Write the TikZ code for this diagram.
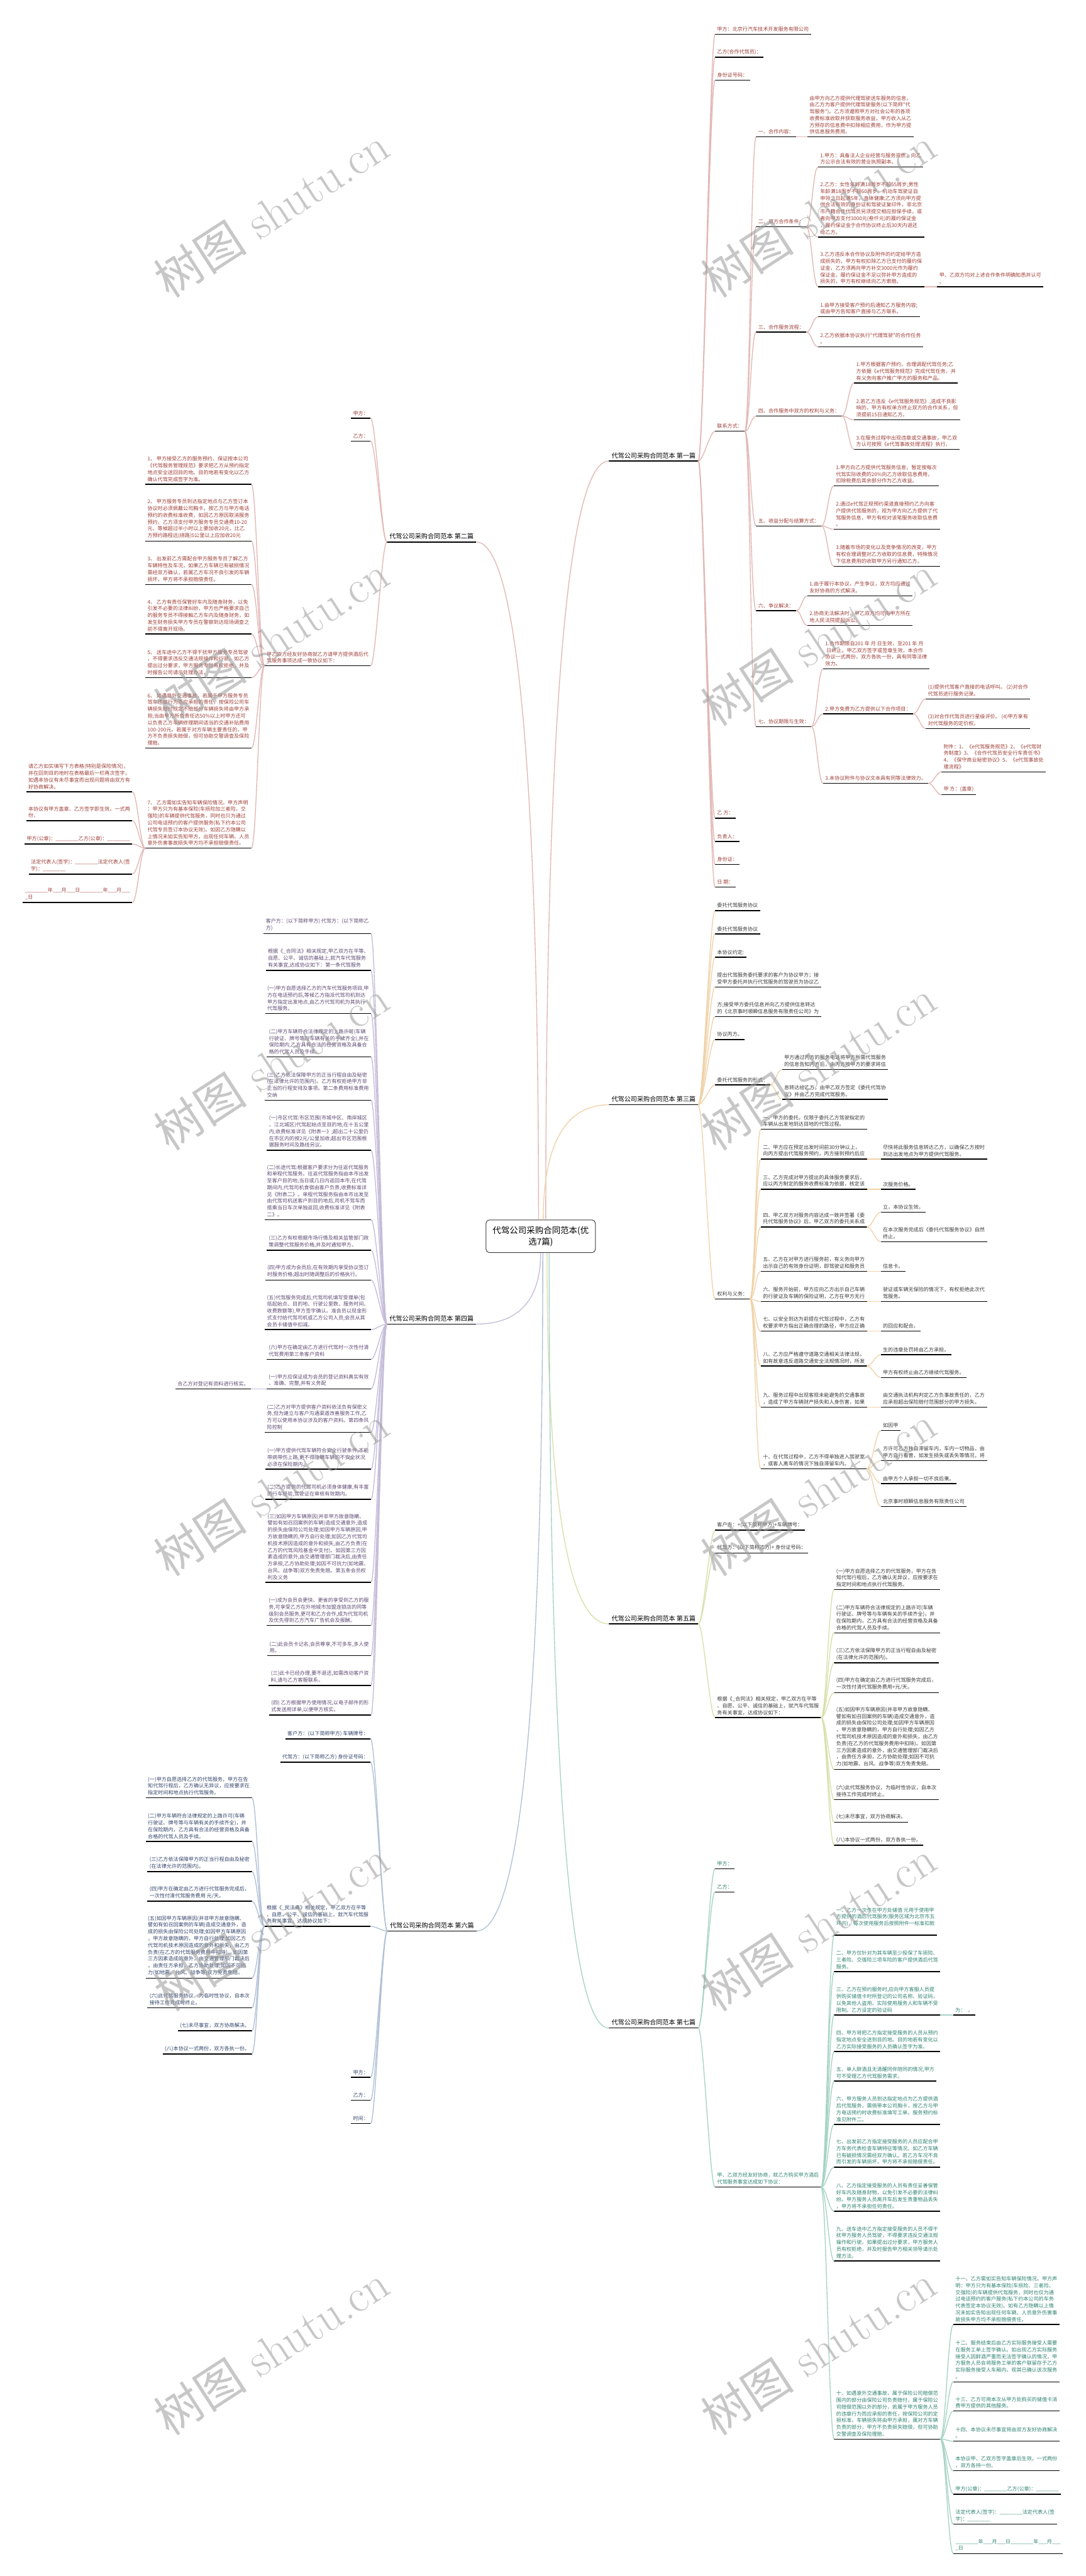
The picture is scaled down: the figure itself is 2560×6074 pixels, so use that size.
\documentclass[tikz,border=0pt]{standalone}
\usepackage{fontspec}
\newfontfamily\cjk{Noto Sans CJK SC}
\definecolor{tRed}{HTML}{9E3F38}
\definecolor{tDark}{HTML}{3A3A3A}
\definecolor{tPur}{HTML}{5E4A72}
\definecolor{tNavy}{HTML}{33456A}
\definecolor{tTeal}{HTML}{2E8270}
\definecolor{kPink}{HTML}{E2B8B5}
\definecolor{kOrange}{HTML}{F0D2A8}
\definecolor{kPur}{HTML}{C6BCD9}
\definecolor{kYG}{HTML}{D9DFAA}
\definecolor{kBlue}{HTML}{B0C0D6}
\definecolor{kTeal}{HTML}{A6D3C5}
\newcommand\mkR[4]{\node[nd,#3,anchor=south west] (#1) at #2 {#4};\draw[uline] (#1.south west) -- (#1.south east);}
\newcommand\mkL[4]{\node[nd,#3,anchor=south east] (#1) at #2 {#4};\draw[uline] (#1.south west) -- (#1.south east);}
\newcommand\lkR[3]{\draw[#1] (#2.south east) .. controls +(12,0) and +(-12,0) .. (#3.south west);}
\newcommand\lkL[3]{\draw[#1] (#2.south west) .. controls +(-12,0) and +(12,0) .. (#3.south east);}
\newcommand\blankL{\_\_\_\_\_\_\_\_}
\newcommand\blankS{\_\_\_}
\begin{document}
\begin{tikzpicture}[x=1pt,y=-1pt,
 nd/.style={inner xsep=5pt,inner ysep=6pt,align=left,font=\cjk\fontsize{12}{16}\selectfont},
 lab/.style={inner xsep=6pt,font=\cjk\fontsize{15}{19}\selectfont,text=black},
 uline/.style={line width=2pt,black},
 root/.style={draw=black!75,line width=1.5pt,rounded corners=8pt,fill=white,minimum width=258pt,minimum height=77pt,align=center,font=\cjk\fontsize{20}{27}\selectfont},
 tA/.style={text=tRed}, tB/.style={text=tDark}, tC/.style={text=tPur}, tD/.style={text=tNavy}, tE/.style={text=tTeal},
 kA/.style={draw=kPink,line width=2pt}, kB/.style={draw=kOrange,line width=2pt}, kC/.style={draw=kPur,line width=2pt},
 kD/.style={draw=kYG,line width=2pt}, kE/.style={draw=kBlue,line width=2pt}, kF/.style={draw=kTeal,line width=2pt},
 wm/.style={rotate=33,text=black!40,opacity=0.55,font=\fontsize{110}{110}\selectfont}
]
\fill[white] (0,0) rectangle (2560,6074);
\useasboundingbox (0,0) rectangle (2560,6074);

\node[root] (root) at (1275,2915) {代驾公司采购合同范本(优\\选7篇)};

\mkR{b1}{(1436,1087)}{lab}{代驾公司采购合同范本 第一篇}
\mkL{b2}{(1123,1278)}{lab}{代驾公司采购合同范本 第二篇}
\mkR{b3}{(1436,2605)}{lab}{代驾公司采购合同范本 第三篇}
\mkL{b4}{(1123,3122)}{lab}{代驾公司采购合同范本 第四篇}
\mkR{b5}{(1436,3829)}{lab}{代驾公司采购合同范本 第五篇}
\mkL{b6}{(1124,4553)}{lab}{代驾公司采购合同范本 第六篇}
\mkR{b7}{(1436,4782)}{lab}{代驾公司采购合同范本 第七篇}

% ---------- Branch 1
\mkR{a1}{(1686,81)}{tA}{甲方：北京行汽车技术开发服务有限公司}
\mkR{a2}{(1686,135)}{tA}{乙方(合作代驾员)：}
\mkR{a3}{(1686,189)}{tA}{身份证号码：}
\mkR{a4}{(1686,1017)}{tA}{联系方式：}
\mkR{a5}{(1686,1929)}{tA}{乙 方：}
\mkR{a6}{(1686,1984)}{tA}{负责人：}
\mkR{a7}{(1686,2038)}{tA}{身份证：}
\mkR{a8}{(1686,2092)}{tA}{日 期：}
\mkR{s1}{(1783,323)}{tA}{一、合作内容：}
\mkR{s2}{(1783,535)}{tA}{二、双方合作条件：}
\mkR{s3}{(1783,783)}{tA}{三、合作服务流程：}
\mkR{s4}{(1783,981)}{tA}{四、合作服务中双方的权利与义务：}
\mkR{s5}{(1783,1240)}{tA}{五、收益分配与结算方式：}
\mkR{s6}{(1783,1440)}{tA}{六、争议解决：}
\mkR{s7}{(1783,1713)}{tA}{七、协议期限与生效：}
\mkR{t11}{(1904,323)}{tA}{由甲方向乙方提供代理驾驶送车服务的信息，\\由乙方为客户提供代理驾驶服务(以下简称"代\\驾服务")。乙方须遵照甲方对社会公布的各项\\收费标准收取并获取服务收益，甲方收入从乙\\方预存的信息费中扣除相应费用，作为甲方提\\供信息服务费用。}
\mkR{t21}{(1929,394)}{tA}{1.甲方：具备法人企业经营与服务资质，向乙\\方公示合法有效的营业执照副本。}
\mkR{t22}{(1929,559)}{tA}{2.乙方：女性年龄满18周岁不超55周岁;男性\\年龄满18周岁不超60周岁。机动车驾驶证自\\申领之日起满5年，身体健康;乙方须向甲方提\\供合法有效的身份证和驾驶证复印件。非北京\\市户籍合作代驾员另须提交相应担保手续，或\\者向甲方支付3000元(叁仟元)的履约保证金\\，履约保证金于合作协议终止后30天内退还\\给乙方。}
\mkR{t23}{(1929,676)}{tA}{3.乙方违反本合作协议及附件的约定给甲方造\\成损失的，甲方有权扣除乙方已支付的履约保\\证金，乙方须再向甲方补交3000元作为履约\\保证金。履约保证金不足以弥补甲方造成的\\损失的，甲方有权继续向乙方索赔。}
\mkR{t231}{(2210,676)}{tA}{甲、乙双方均对上述合作条件明确知悉并认可\\。}
\mkR{t31}{(1929,747)}{tA}{1.由甲方接受客户预约后通知乙方服务内容;\\或由甲方告知客户直接与乙方联系。}
\mkR{t32}{(1929,818)}{tA}{2.乙方依据本协议执行"代理驾驶"的合作任务\\。}
\mkR{t41}{(2014,903)}{tA}{1.甲方根据客户预约，合理调配代驾任务;乙\\方依据《e代驾服务规范》完成代驾任务，并\\有义务向客户推广甲方的服务和产品。}
\mkR{t42}{(2014,990)}{tA}{2.若乙方违反《e代驾服务规范》,造成不良影\\响的，甲方有权单方终止双方的合作关系，但\\须提前15日通知乙方。}
\mkR{t43}{(2014,1060)}{tA}{3.在服务过程中出现违章或交通事故，甲乙双\\方认可按照《e代驾事故处理流程》执行。}
\mkR{t51}{(1966,1146)}{tA}{1.甲方向乙方提供代驾服务信息，暂定按每次\\代驾实际收费的20\%向乙方收取信息费用，\\扣除税费后其余部分作为乙方收益。}
\mkR{t52}{(1966,1248)}{tA}{2.通过e代驾正规预约渠道直接预约乙方向客\\户提供代驾服务的，视为甲方向乙方提供了代\\驾服务信息，甲方有权对该笔服务收取信息费\\。}
\mkR{t53}{(1966,1335)}{tA}{3.随着市场的变化以及竞争情况的改变，甲方\\有权合理调整对乙方收取的信息费，特殊情况\\下信息费用的收取甲方另行通知乙方。}
\mkR{t61}{(1904,1405)}{tA}{1.由于履行本协议，产生争议，双方均应通过\\友好协商的方式解决。}
\mkR{t62}{(1904,1475)}{tA}{2.协商无法解决时，甲乙双方均可向甲方所在\\地人民法院提起诉讼。}
\mkR{t71}{(1941,1577)}{tA}{1.合作期限自201 年 月 日生效，至201 年 月\\~日终止。甲乙双方签字或签章生效，本合作\\协议一式两份，双方各执一份，具有同等法律\\效力。}
\mkR{t72}{(1941,1683)}{tA}{2.甲方免费为乙方提供以下合作项目：}
\mkR{t73}{(1941,1847)}{tA}{3.本协议附件与协议文本具有同等法律效力。}
\mkR{u1}{(2183,1648)}{tA}{(1)提供代驾客户直接的电话呼叫。 (2)对合作\\代驾员进行服务记录。}
\mkR{u2}{(2183,1718)}{tA}{(3)对合作代驾员进行星级评价。 (4)甲方享有\\对代驾服务的定价权。}
\mkR{u3}{(2220,1820)}{tA}{附件：1、《e代驾服务规范》2、《e代驾财\\务制度》3、《合作代驾员安全行车责任书》\\4、《保守商业秘密协议》5、《e代驾事故处\\理流程》}
\mkR{u4}{(2220,1874)}{tA}{甲 方：(盖章)}

% ---------- Branch 2
\mkL{c1}{(874,986)}{tA}{甲方：}
\mkL{c2}{(874,1040)}{tA}{乙方：}
\mkL{c3}{(874,1570)}{tA}{甲乙双方经友好协商就乙方请甲方提供酒后代\\驾服务事项达成一致协议如下：}
\mkL{d1}{(593,1142)}{tA}{1、 甲方接受乙方的服务预约，保证按本公司\\《代驾服务管理规范》要求把乙方从预约指定\\地点安全送回目的地。目的地若有变化以乙方\\确认代驾完成签字为准。}
\mkL{d2}{(593,1276)}{tA}{2、 甲方服务专员到达指定地点与乙方签订本\\协议时必须佩戴公司胸卡。按乙方与甲方电话\\预约的收费标准收费，如因乙方原因取消服务\\预约，乙方须支付甲方服务专员交通费10-20\\元，等候超过半小时以上要加收20元，比乙\\方预约路程远(绕路)5公里以上应加收20元}
\mkL{d3}{(593,1378)}{tA}{3、 出发前乙方需配合甲方服务专员了解乙方\\车辆特性及车况，如果乙方车辆已有破损情况\\需经双方确认，若属乙方车况不良引发的车辆\\损坏，甲方将不承担赔偿责任。}
\mkL{d4}{(593,1495)}{tA}{4、 乙方有责任保管好车内及随身财务，以免\\引发不必要的法律纠纷，甲方也严格要求自己\\的服务专员不得接触乙方车内及随身财务，如\\发生财务损失甲方专员在警察到达现场调查之\\前不得离开现场。}
\mkL{d5}{(593,1598)}{tA}{5、 送车途中乙方不得干扰甲方服务专员驾驶\\，不得要求违反交通法规操作和行驶。如乙方\\提出过分要求，甲方服务专员有权拒绝，并及\\时报告公司请示处理办法，}
\mkL{d6}{(593,1764)}{tA}{6、 如遇意外交通事故，若属于甲方服务专员\\驾车违章行为而应承担的责任，按保险公司车\\辆损失赔付规定不赔部分车辆损失将由甲方承\\担;当由甲方所负责任达50\%以上时甲方还可\\以负责乙方车辆修理期间适当的交通补贴费用\\100-200元。若属于对方车辆主要责任的，甲\\方不负责损失赔偿，但可协助交警调查及保险\\理赔。}
\mkL{d7}{(593,2000)}{tA}{7、 乙方需如实告知车辆保险情况。甲方声明\\：甲方只为有基本保险(车损险加三者险，交\\强险)的车辆提供代驾服务，同时也只为通过\\公司电话预约的客户提供服务(私下约本公司\\代驾专员签订本协议无效)。如因乙方隐瞒以\\上情况未如实告知甲方，出现任何车辆、人员\\意外伤害事故损失甲方均不承担赔偿责任。}
\mkL{e1}{(312,1867)}{tA}{请乙方如实填写下方表格(特别是保险情况)，\\并在回到目的地时在表格最后一栏再次签字。\\如遇本协议有未尽事宜而出现问题将由双方有\\好协商解决。}
\mkL{e2}{(312,1935)}{tA}{本协议有甲方盖章、乙方签字即生效。一式两\\份，}
\mkL{e3}{(312,1990)}{tA}{甲方(公章)：\blankL 乙方(公章)：\blankL}
\mkL{e4}{(312,2061)}{tA}{法定代表人(签字)：\blankL 法定代表人(签\\字)：\blankL}
\mkL{e5}{(312,2128)}{tA}{\blankL 年\blankS 月\blankS 日\blankL 年\blankS 月\blankS\\\_日}

% ---------- Branch 3
\mkR{f1}{(1686,2147)}{tB}{委托代驾服务协议}
\mkR{f2}{(1686,2202)}{tB}{委托代驾服务协议}
\mkR{f3}{(1686,2257)}{tB}{本协议约定:}
\mkR{f4}{(1686,2327)}{tB}{提出代驾服务委托要求的客户为协议甲方；接\\受甲方委托并执行代驾服务的驾驶员为协议乙}
\mkR{f5}{(1686,2397)}{tB}{方;接受甲方委托信息并向乙方提供信息转达\\的《北京事时顺瞬信息服务有限责任公司》为}
\mkR{f6}{(1686,2451)}{tB}{协议丙方。}
\mkR{f7}{(1686,2558)}{tB}{委托代驾服务的形式：}
\mkR{f8}{(1686,3063)}{tB}{权利与义务：}
\mkR{g1}{(1844,2522)}{tB}{甲方通过丙方的服务电话将甲方所需代驾服务\\的信息告知丙方后，由丙方按甲方的要求将信}
\mkR{g2}{(1844,2592)}{tB}{息转达给乙方，由甲乙双方签定《委托代驾协\\议》并由乙方完成代驾服务。}
\mkR{h1}{(1794,2663)}{tB}{一、甲方的委托，仅限于委托乙方驾驶指定的\\车辆从出发地到达目地的代驾过程。}
\mkR{h2}{(1794,2733)}{tB}{二、甲方应在预定出发时间前30分钟以上，\\向丙方提出代驾服务预约，丙方接到预约后应}
\mkR{h3}{(1794,2804)}{tB}{三、乙方完成对甲方提出的具体服务要求后，\\应以丙方制定的服务收费标准为依据，核定该}
\mkR{h4}{(1794,2893)}{tB}{四、甲乙双方对服务内容达成一致并签署《委\\托代驾服务协议》后，甲乙双方的委托关系成}
\mkR{h5}{(1794,2998)}{tB}{五、乙方在对甲方进行服务前，有义务向甲方\\出示自己的有效身份证明，即驾驶证和服务员}
\mkR{h6}{(1794,3069)}{tB}{六、服务开始前，甲方应向乙方出示自己车辆\\的行驶证及车辆的保险证明，乙方在甲方无行}
\mkR{h7}{(1794,3139)}{tB}{七、以安全到达为前提在代驾过程中，乙方有\\权要求甲方指出正确合理的路径，甲方应正确}
\mkR{h8}{(1794,3221)}{tB}{八、乙方应严格遵守道路交通相关法律法规，\\如有故意违反道路交通安全法规情况时，所发}
\mkR{h9}{(1794,3318)}{tB}{九、服务过程中出现客观未能避免的交通事故\\，造成了甲方车辆财产损失和人身伤害，如果}
\mkR{h10}{(1794,3463)}{tB}{十、在代驾过程中，乙方不得单独进入驾驶室\\，或客人离车的情况下独自滞留车内。}
\mkR{h2a}{(2077,2733)}{tB}{尽快将此服务信息转达乙方，以确保乙方按时\\到达出发地点为甲方提供代驾服务。}
\mkR{h3a}{(2077,2804)}{tB}{次服务价格。}
\mkR{h4a}{(2077,2858)}{tB}{立，本协议生效。}
\mkR{h4b}{(2077,2928)}{tB}{在本次服务完成后《委托代驾服务协议》自然\\终止。}
\mkR{h5a}{(2077,2998)}{tB}{信息卡。}
\mkR{h6a}{(2077,3069)}{tB}{驶证或车辆无保险的情况下，有权拒绝此次代\\驾服务。}
\mkR{h7a}{(2077,3139)}{tB}{的回应和配合。}
\mkR{h8a}{(2077,3194)}{tB}{生的违章处罚将由乙方承担。}
\mkR{h8b}{(2077,3248)}{tB}{甲方有权终止由乙方继续代驾服务。}
\mkR{h9a}{(2077,3318)}{tB}{由交通执法机构判定乙方负事故责任的，乙方\\应承担超出保险赔付范围部分的甲方损失。}
\mkR{h10a}{(2077,3373)}{tB}{如因甲}
\mkR{h10b}{(2077,3444)}{tB}{方许可乙方独自滞留车内，车内一切物品，由\\甲方自行看管，如发生损失或丢失等情况，将}
\mkR{h10c}{(2077,3498)}{tB}{由甲方个人承担一切不良后果。}
\mkR{h10d}{(2077,3552)}{tB}{北京事时顺瞬信息服务有限责任公司}

% ---------- Branch 4
\mkL{i1}{(875,2201)}{tC}{客户方：(以下简称甲方) 代驾方：(以下简称乙\\方)}
\mkL{i2}{(875,2288)}{tC}{根据《\_合同法》相关规定,甲乙双方在平等、\\自愿、公平、诚信的基础上,就汽车代驾服务\\有关事宜,达成协议如下：第一条代驾服务}
\mkL{i3}{(875,2390)}{tC}{(一)甲方自愿选择乙方的汽车代驾服务项目,甲\\方在电话预约后,等候乙方指派代驾司机到达\\甲方指定出发地点,由乙方代驾司机为其执行\\代驾服务。}
\mkL{i4}{(875,2492)}{tC}{(二)甲方车辆符合法律规定的上路许可(车辆\\行驶证、牌号等与车辆有关的手续齐全),并在\\保险期内,乙方具有合法的经营资格及具备合\\格的代驾人员及手续。}
\mkL{i5}{(875,2594)}{tC}{(三)乙方依法保障甲方的正当行程自由及秘密\\(在法律允许的范围内)。乙方有权拒绝甲方非\\正当的行程安排及事项。第二条费用标准费用\\交纳}
\mkL{i6}{(875,2712)}{tC}{(一)市区代驾:市区范围(市城中区、南岸城区\\、江北城区)代驾起始点至目的地,在十五公里\\内,收费标准详见《附表一》;超出二十公里仍\\在市区内的按2元/公里加收;超出市区范围根\\据服务时间及路线另议。}
\mkL{i7}{(875,2876)}{tC}{(二)长途代驾:根据客户要求分为往返代驾服务\\和单程代驾服务。往返代驾服务指由本市出发\\至客户目的地,当日或几日内返回本市,在代驾\\期间内,代驾司机食宿由客户负责,收费标准详\\见《附表二》。单程代驾服务指由本市出发至\\由代驾司机送客户到目的地后,司机不驾车而\\搭乘当日车次单独返回,收费标准详见《附表\\二》。}
\mkL{i8}{(875,2948)}{tC}{(三)乙方有权根据市场行情及相关监管部门政\\策调整代驾服务价格,并及时通知甲方。}
\mkL{i9}{(875,3018)}{tC}{(四)甲方成为会员后,在有效期内享受协议签订\\时服务价格;超出时随调整后的价格执行。}
\mkL{i10}{(875,3135)}{tC}{(五)代驾服务完成后,代驾司机填写受理单(包\\括起始点、目的地、行驶公里数、服务时间、\\收费数额等),甲方签字确认。准会员以现金形\\式支付给代驾司机或乙方公司人员;会员从其\\会员卡储值中扣减。}
\mkL{i11}{(875,3205)}{tC}{(六)甲方在确定由乙方进行代驾时一次性付清\\代驾费用第三条客户资料}
\mkL{i12}{(875,3275)}{tC}{(一)甲方应保证成为会员的登记资料真实有效\\、准确、完整,并有义务配}
\mkL{j1}{(592,3275)}{tC}{合乙方对登记有资料进行核实。}
\mkL{i13}{(875,3377)}{tC}{(二)乙方对甲方提供客户资料依法负有保密义\\务,但为建立与客户沟通渠道改善服务工作,乙\\方可以使用本协议涉及的客户资料。第四条风\\险控制}
\mkL{i14}{(875,3464)}{tC}{(一)甲方提供代驾车辆符合安全行驶条件,不能\\带病带伤上路,更不得隐瞒车辆的不安全状况\\必须在保险期内。}
\mkL{i15}{(875,3535)}{tC}{(二)乙方提供的代驾司机必须身体健康,有丰富\\的行车经验,驾驶证在审核有效期内。}
\mkL{i16}{(875,3731)}{tC}{(三)如因甲方车辆原因(并非甲方故意隐瞒、\\譬如有如召回案例的车辆)造成交通意外,造成\\的损失由保险公司处理;如因甲方车辆原因,甲\\方故意隐瞒的,甲方自行处理;如因乙方代驾司\\机技术原因造成的意外和损失,由乙方负责(在\\乙方的代驾风险基金中支付)。如因第三方因\\素造成的意外,由交通管理部门裁决后,由责任\\方承担,乙方协助处理;如因不可抗力(如地震、\\台风、战争等)双方免责免赔。第五条会员权\\利及义务}
\mkL{i17}{(875,3833)}{tC}{(一)成为会员会更快、更省的享受到乙方的服\\务,可享受乙方在外地城市加盟连锁店的同等\\级别会员服务,更可和乙方合作,成为代驾司机\\及优先得到乙方汽车广告机会及报酬。}
\mkL{i18}{(875,3904)}{tC}{(二)此会员卡记名,会员尊享,不可多车,多人使\\用。}
\mkL{i19}{(875,3974)}{tC}{(三)此卡已经办理,要不退还,如需改动客户资\\料,请与乙方客服联系。}
\mkL{i20}{(875,4044)}{tC}{(四) 乙方根据甲方使用情况,以电子邮件的形\\式发送用详单,以便甲方核实。}

% ---------- Branch 5
\mkR{k1}{(1686,3608)}{tB}{客户方：+(以下简称甲方)+车辆牌号：}
\mkR{k2}{(1686,3662)}{tB}{代驾方：(以下简称乙方)+ 身份证号码：}
\mkR{k3}{(1686,4050)}{tB}{根据《\_合同法》相关规定，甲乙双方在平等\\、自愿、公平、诚信的基础上，就汽车代驾服\\务有关事宜，达成协议如下：}
\mkR{l1}{(1967,3748)}{tB}{(一)甲方自愿选择乙方的代驾服务，甲方在告\\知代驾行程后，乙方确认无异议，应按要求在\\指定时间和地点执行代驾服务。}
\mkR{l2}{(1967,3850)}{tB}{(二)甲方车辆符合法律规定的上路许可(车辆\\行驶证、牌号等与车辆有关的手续齐全)，并\\在保险期内，乙方具有合法的经营资格及具备\\合格的代驾人员及手续。}
\mkR{l3}{(1967,3921)}{tB}{(三)乙方依法保障甲方的正当行程自由及秘密\\(在法律允许的范围内)。}
\mkR{l4}{(1967,3991)}{tB}{(四)甲方在确定由乙方进行代驾服务完成后，\\一次性付清代驾服务费用+元/天。}
\mkR{l5}{(1967,4172)}{tB}{(五)如因甲方车辆原因(并非甲方故意隐瞒、\\譬如有如召回案例的车辆)造成交通意外，造\\成的损失由保险公司处理;如因甲方车辆原因\\，甲方故意隐瞒的，甲方自行处理;如因乙方\\代驾司机技术原因造成的意外和损失，由乙方\\负责(在乙方的代驾服务费用中扣除)。如因第\\三方因素造成的意外，由交通管理部门裁决后\\，由责任方承担，乙方协助处理;如因不可抗\\力(如地震、台风、战争等)双方免责免赔。}
\mkR{l6}{(1967,4243)}{tB}{(六)此代驾服务协议，为临时性协议，自本次\\接待工作完成时终止。}
\mkR{l7}{(1967,4297)}{tB}{(七)未尽事宜，双方协商解决。}
\mkR{l8}{(1967,4351)}{tB}{(八)本协议一式两份，双方各执一份。}

% ---------- Branch 6
\mkL{m1}{(874,4100)}{tD}{客户方：(以下简称甲方) 车辆牌号：}
\mkL{m2}{(874,4155)}{tD}{代驾方：(以下简称乙方) 身份证号码：}
\mkL{m3}{(874,4542)}{tD}{根据《\_民法典》相关规定，甲乙双方在平等\\、自愿、公平、诚信的基础上，就汽车代驾服\\务有关事宜，达成协议如下：}
\mkL{m4}{(874,4898)}{tD}{甲方：}
\mkL{m5}{(874,4952)}{tD}{乙方：}
\mkL{m6}{(874,5007)}{tD}{时间：}
\mkL{n1}{(594,4239)}{tD}{(一)甲方自愿选择乙方的代驾服务，甲方在告\\知代驾行程后，乙方确认无异议，应按要求在\\指定时间和地点执行代驾服务。}
\mkL{n2}{(594,4342)}{tD}{(二)甲方车辆符合法律规定的上路许可(车辆\\行驶证、牌号等与车辆有关的手续齐全)，并\\在保险期内，乙方具有合法的经营资格及具备\\合格的代驾人员及手续。}
\mkL{n3}{(594,4413)}{tD}{(三)乙方依法保障甲方的正当行程自由及秘密\\(在法律允许的范围内)。}
\mkL{n4}{(594,4483)}{tD}{(四)甲方在确定由乙方进行代驾服务完成后，\\一次性付清代驾服务费用 元/天。}
\mkL{n5}{(594,4664)}{tD}{(五)如因甲方车辆原因(并非甲方故意隐瞒、\\譬如有如召回案例的车辆)造成交通意外，造\\成的损失由保险公司处理;如因甲方车辆原因\\，甲方故意隐瞒的，甲方自行处理;如因乙方\\代驾司机技术原因造成的意外和损失，由乙方\\负责(在乙方的代驾服务费用中扣除)。如因第\\三方因素造成的意外，由交通管理部门裁决后\\，由责任方承担，乙方协助处理;如因不可抗\\力(如地震、台风、战争等)双方免责免赔。}
\mkL{n6}{(594,4734)}{tD}{(六)此代驾服务协议，为临时性协议，自本次\\接待工作完成时终止。}
\mkL{n7}{(594,4788)}{tD}{(七)未尽事宜，双方协商解决。}
\mkL{n8}{(594,4843)}{tD}{(八)本协议一式两份，双方各执一份。}

% ---------- Branch 7
\mkR{o1}{(1686,4406)}{tE}{甲方：}
\mkR{o2}{(1686,4461)}{tE}{乙方：}
\mkR{o3}{(1686,5157)}{tE}{甲、乙双方经友好协商，就乙方购买甲方酒后\\代驾服务事宜达成如下协议：}
\mkR{p1}{(1967,4563)}{tE}{一、乙方一次性在甲方处储值 元用于使用甲\\方提供的酒后代驾服务(服务区域为北京市五\\环内)，每次使用服务后按照附件一标准扣款\\。}
\mkR{p2}{(1967,4649)}{tE}{二、甲方仅针对为其车辆至少投保了车损险、\\三者险、交强险三项车险的客户提供酒后代驾\\服务。}
\mkR{p3}{(1967,4751)}{tE}{三、乙方在预约服务时,应向甲方客服人员提\\供购买储值卡时所登记的公司名称、验证码，\\以免其他人盗用。实际使用服务人和车辆不受\\限制。乙方设定的验证码}
\mkR{q0}{(2248,4751)}{tE}{为：~~。}
\mkR{p4}{(1967,4837)}{tE}{四、甲方将把乙方指定接受服务的人员从预约\\指定地点安全送到目的地。目的地若有变化以\\乙方实际接受服务的人员确认签字为准。}
\mkR{p5}{(1967,4907)}{tE}{五、单人醉酒且无清醒同伴陪同的情况,甲方\\可不受理乙方代驾服务需求。}
\mkR{p6}{(1967,5009)}{tE}{六、甲方服务人员到达指定地点为乙方提供酒\\后代驾服务，需佩带本公司胸卡，按乙方与甲\\方电话预约时收费标准填写工单。服务预约标\\准见附件二。}
\mkR{p7}{(1967,5110)}{tE}{七、出发前乙方指定接受服务的人员应配合甲\\方车务代表检查车辆特征等情况。如乙方车辆\\已有破损情况需经双方确认。若乙方车况不良\\而引发的车辆损坏，甲方将不承担赔偿责任。}
\mkR{p8}{(1967,5214)}{tE}{八、乙方指定接受服务的人员有责任妥善保管\\好车内及随身财物，以免引发不必要的法律纠\\纷。甲方服务人员离开车后发生贵重物品丢失\\，甲方将不承担任何责任。}
\mkR{p9}{(1967,5331)}{tE}{九、送车途中乙方指定接受服务的人员不得干\\扰甲方服务人员驾驶，不得要求违反交通法规\\操作和行驶。如果提出过分要求，甲方服务人\\员有权拒绝，并及时报告甲方相关领导请示处\\理方法。}
\mkR{p10}{(1967,5751)}{tE}{十、如遇意外交通事故，属于保险公司赔偿范\\围内的部分由保险公司负责赔付，属于保险公\\司赔偿范围以外的部分，若属于甲方服务人员\\的违章行为而应承担的责任，按保险公司的定\\损标准，车辆损失将由甲方承担，属对方车辆\\负责的部分，甲方不负责损失赔偿，但可协助\\交警调查及保险理赔。}
\mkR{q1}{(2248,5481)}{tE}{十一、乙方需如实告知车辆保险情况。甲方声\\明：甲方只为有基本保险(车损险、三者险、\\交强险)的车辆提供代驾服务，同时也仅为通\\过电话预约的客户服务(私下约本公司的车务\\代表签定本协议无效)。如有乙方隐瞒以上情\\况未如实告知出现任何车辆、人员意外伤害事\\故损失甲方均不承担赔偿责任。}
\mkR{q2}{(2248,5616)}{tE}{十二、服务结束后由乙方实际服务接受人需要\\在服务工单上签字确认。如出现乙方实际服务\\接受人因醉酒严重而无法签字确认的情况，甲\\方服务人员会将服务工单的客户联留存于乙方\\实际服务接受人车厢内，视其已确认该次服务\\。}
\mkR{q3}{(2248,5685)}{tE}{十三、乙方可用本次从甲方处购买的储值卡消\\费甲方提供的其他服务。}
\mkR{q4}{(2248,5756)}{tE}{十四、本协议未尽事宜将由双方友好协商解决\\。}
\mkR{q5}{(2248,5826)}{tE}{本协议甲、乙双方签字盖章后生效。一式两份\\，双方各持一份。}
\mkR{q6}{(2248,5881)}{tE}{甲方(公章)：\blankL 乙方(公章)：\blankL}
\mkR{q7}{(2248,5952)}{tE}{法定代表人(签字)：\blankL 法定代表人(签\\字)：\blankL}
\mkR{q8}{(2248,6021)}{tE}{\blankL 年\blankS 月\blankS 日\blankL 年\blankS 月\blankS\\\_日}

% ---------- root connectors
\draw[kA] ([xshift=12pt]root.north) .. controls (1287,1982) and (1317,1087) .. (b1.south west);
\draw[kA] ([xshift=-5pt]root.north) .. controls (1270,2078) and (1240,1278) .. (b2.south east);
\draw[kB] ([xshift=6pt]root.north) .. controls (1281,2741) and (1312,2605) .. (b3.south west);
\draw[kC] (root.south) .. controls (1275,3038) and (1245,3122) .. (b4.south east);
\draw[kD] ([xshift=15pt]root.south) .. controls (1290,3392) and (1319,3829) .. (b5.south west);
\draw[kE] ([xshift=5pt]root.south) .. controls (1280,3754) and (1249,4553) .. (b6.south east);
\draw[kF] ([xshift=20pt]root.south) .. controls (1295,3868) and (1323,4782) .. (b7.south west);

% ---------- branch connectors
\foreach \c in {a1,a2,a3,a4,a5,a6,a7,a8} {\lkR{kA}{b1}{\c}}
\foreach \c in {s1,s2,s3,s4,s5,s6,s7} {\lkR{kA}{a4}{\c}}
\lkR{kA}{s1}{t11}
\foreach \c in {t21,t22,t23} {\lkR{kA}{s2}{\c}}
\lkR{kA}{t23}{t231}
\foreach \c in {t31,t32} {\lkR{kA}{s3}{\c}}
\foreach \c in {t41,t42,t43} {\lkR{kA}{s4}{\c}}
\foreach \c in {t51,t52,t53} {\lkR{kA}{s5}{\c}}
\foreach \c in {t61,t62} {\lkR{kA}{s6}{\c}}
\foreach \c in {t71,t72,t73} {\lkR{kA}{s7}{\c}}
\foreach \c in {u1,u2} {\lkR{kA}{t72}{\c}}
\foreach \c in {u3,u4} {\lkR{kA}{t73}{\c}}

\foreach \c in {c1,c2,c3} {\lkL{kA}{b2}{\c}}
\foreach \c in {d1,d2,d3,d4,d5,d6,d7} {\lkL{kA}{c3}{\c}}
\foreach \c in {e1,e2,e3,e4,e5} {\lkL{kA}{d7}{\c}}

\foreach \c in {f1,f2,f3,f4,f5,f6,f7,f8} {\lkR{kB}{b3}{\c}}
\foreach \c in {g1,g2} {\lkR{kB}{f7}{\c}}
\foreach \c in {h1,h2,h3,h4,h5,h6,h7,h8,h9,h10} {\lkR{kB}{f8}{\c}}
\lkR{kB}{h2}{h2a}
\lkR{kB}{h3}{h3a}
\foreach \c in {h4a,h4b} {\lkR{kB}{h4}{\c}}
\lkR{kB}{h5}{h5a}
\lkR{kB}{h6}{h6a}
\lkR{kB}{h7}{h7a}
\foreach \c in {h8a,h8b} {\lkR{kB}{h8}{\c}}
\lkR{kB}{h9}{h9a}
\foreach \c in {h10a,h10b,h10c,h10d} {\lkR{kB}{h10}{\c}}

\foreach \c in {i1,i2,i3,i4,i5,i6,i7,i8,i9,i10,i11,i12,i13,i14,i15,i16,i17,i18,i19,i20} {\lkL{kC}{b4}{\c}}
\lkL{kC}{i12}{j1}

\foreach \c in {k1,k2,k3} {\lkR{kD}{b5}{\c}}
\foreach \c in {l1,l2,l3,l4,l5,l6,l7,l8} {\lkR{kD}{k3}{\c}}

\foreach \c in {m1,m2,m3,m4,m5,m6} {\lkL{kE}{b6}{\c}}
\foreach \c in {n1,n2,n3,n4,n5,n6,n7,n8} {\lkL{kE}{m3}{\c}}

\foreach \c in {o1,o2,o3} {\lkR{kF}{b7}{\c}}
\foreach \c in {p1,p2,p3,p4,p5,p6,p7,p8,p9,p10} {\lkR{kF}{o3}{\c}}
\lkR{kF}{p3}{q0}
\foreach \c in {q1,q2,q3,q4,q5,q6,q7,q8} {\lkR{kF}{p10}{\c}}

% ---------- watermarks
\foreach \x in {640,1930} {
  \foreach \y in {500,1510,2510,3515,4540,5540} {
    \node[wm] at (\x,\y) {{\cjk 树图} shutu.cn};
  }
}
\end{tikzpicture}
\end{document}
